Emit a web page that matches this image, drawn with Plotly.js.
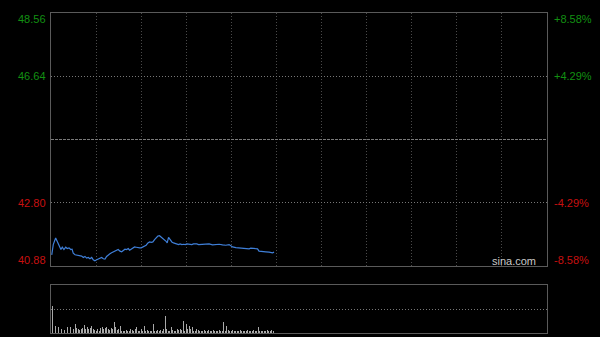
<!DOCTYPE html>
<html>
<head>
<meta charset="utf-8">
<script src="https://cdn.plot.ly/plotly-3.0.1.min.js"></script>
<style>
html,body{margin:0;padding:0;background:#000;}
#chart{width:600px;height:337px;}
</style>
</head>
<body>
<div id="chart"></div>
<script>
// Minutes since 09:30 (HK session, 330 minutes total), and prices
const priceMinutes = [0.5,1.5,3.1,4.2,5.5,6.6,7.5,8.6,9.8,10.8,12,13.1,14,14.8,16,17.1,18.1,19.3,20.4,21.5,22.6,23.7,24.8,25.9,27.1,28.1,29.2,30.4,31.4,32.6,33.7,34.8,35.9,37,38.1,39.2,40.3,41.4,42.5,43.7,44.7,45.9,47,48.1,49.2,50.3,51.4,52.3,53.4,54.5,55.6,56.7,57.8,59,60,61.1,62.3,63.3,64.5,65.6,66.7,67.8,68.9,70,71.1,72.2,73.3,74.4,75.6,76.6,77.3,78.2,79.3,80.4,81.5,82.6,83.7,84.9,85.9,87.1,88.2,89.3,90.4,91.5,92.6,93.7,94.8,95.9,97,98.2,99.2,100.4,101.5,102.6,103.7,105.2,107.5,109.7,111.9,114.1,116.3,118.5,119.6,120.8,123,125.2,127.4,129.6,131.8,132.9,135.1,137.4,138.4,140.7,142.9,145.1,147.4,148.4];
const prices = [41.22,41.53,41.73,41.63,41.48,41.38,41.45,41.38,41.45,41.41,41.43,41.38,41.39,41.27,41.22,41.21,41.21,41.18,41.18,41.14,41.17,41.12,41.14,41.10,41.14,41.07,41.04,41.07,41.09,41.12,41.14,41.10,41.09,41.17,41.22,41.25,41.28,41.31,41.33,41.35,41.38,41.33,41.31,41.35,41.39,41.38,41.41,41.36,41.40,41.43,41.46,41.45,41.43,41.43,41.43,41.45,41.48,41.51,41.58,41.61,41.60,41.61,41.68,41.75,41.79,41.80,41.76,41.73,41.68,41.63,41.58,41.75,41.68,41.61,41.58,41.56,41.55,41.53,41.55,41.53,41.54,41.53,41.55,41.54,41.53,41.53,41.55,41.56,41.55,41.53,41.53,41.54,41.55,41.54,41.55,41.55,41.52,41.54,41.54,41.52,41.51,41.53,41.50,41.46,41.44,41.43,41.40,41.41,41.40,41.42,41.41,41.40,41.33,41.31,41.31,41.30,41.28,41.30];

// Per-minute volume (relative units)
const volumes = [48,26.7,13.3,7.3,8,5.7,7.3,4,11.3,3,
  4,5.7,12.3,5.7,7.3,4,9,4.7,4,3,
  4,4.7,8,4,5.7,4,4.7,6.7,4,3,
  2.3,4,2.3,4.7,5.7,4,4.7,5.7,4,3,
  4.7,4,10.7,5.7,3.3,4,6.7,2.3,2.3,2,
  3.3,2,2.3,4,3,2.3,4,5.7,2.3,2,
  4,2.3,7.3,2.3,3.3,2,2.3,2.3,9,2,
  2.3,3,2,3,2.3,4,17.3,4,2.3,2,
  5.7,3,2.3,2.3,4,3,4,3.3,12.3,2,
  9,4,7.3,4,5.7,2.3,2.3,4,3,2,
  2,2.3,3,2.3,2,3,2.3,2,3,2,
  2.3,2,3,2,2.3,10.7,2.3,6.7,3,2,
  2.3,3,2,2.3,2,2.3,3,2,2.3,2,
  2,2.7,2,2.3,2,3,2,2.3,5.7,2,
  2.3,2,2.3,2,3,2.3,2,2.7,2.3];
const volumeMinutes = volumes.map((v,i)=>i);

const prevClose = 44.72;
const leftLabels = ["48.56","46.64","42.80","40.88"];
const rightLabels = ["+8.58%","+4.29%","-4.29%","-8.58%"];
const labelLevels = [48.56,46.64,42.80,40.88];
const labelColors = ["#129012","#129012","#c81010","#c81010"];
const labelShifts = [-6,0,0,6];

const traces = [
  {x: priceMinutes, y: prices, type:'scatter', mode:'lines',
   line:{color:'#3f7fd8', width:1.2}, xaxis:'x', yaxis:'y', hoverinfo:'skip'},
  {x: volumeMinutes, y: volumes, type:'bar', width:0.6,
   marker:{color:'#a8a8a8', line:{width:0}}, xaxis:'x2', yaxis:'y2', hoverinfo:'skip'}
];

const annotations = [];
labelLevels.forEach((lv,i)=>{
  annotations.push({xref:'paper', yref:'y', x:0, y:lv, xanchor:'right', yanchor:'middle',
    xshift:-3, yshift:labelShifts[i], text:leftLabels[i], showarrow:false,
    font:{family:'Liberation Sans, Arial, sans-serif', size:11, color:labelColors[i]}});
  annotations.push({xref:'paper', yref:'y', x:1, y:lv, xanchor:'left', yanchor:'middle',
    xshift:5, yshift:labelShifts[i], text:rightLabels[i], showarrow:false,
    font:{family:'Liberation Sans, Arial, sans-serif', size:11, color:labelColors[i]}});
});
annotations.push({xref:'paper', yref:'y', x:(538-51)/496, y:40.88, xanchor:'right', yanchor:'middle',
  yshift:5, text:'sina.com', showarrow:false,
  font:{family:'Liberation Sans, Arial, sans-serif', size:11, color:'#c8c8c8'}});

const layout = {
  width:600, height:337,
  margin:{l:51, r:53, t:13, b:4, pad:0},
  paper_bgcolor:'#000', plot_bgcolor:'#000',
  showlegend:false,
  bargap:0,
  xaxis:{domain:[0,1], range:[0,330], tick0:0, dtick:30, showgrid:true, gridcolor:'#4a4a4a',
    griddash:'1px,2px', gridwidth:1, showline:true, mirror:true, linecolor:'#5a5a5a', linewidth:1,
    showticklabels:false, ticks:'', zeroline:false, fixedrange:true},
  yaxis:{domain:[0.2094,1], range:[40.88,48.56], tickvals:[42.80,46.64], showgrid:true,
    gridcolor:'#777', griddash:'1px,2px', showline:true, mirror:true, linecolor:'#5a5a5a', linewidth:1,
    showticklabels:false, ticks:'', zeroline:false, fixedrange:true},
  xaxis2:{domain:[0,1], anchor:'y2', range:[0,330], showgrid:false, showline:true, mirror:true,
    linecolor:'#5a5a5a', linewidth:1,
    showticklabels:false, ticks:'', zeroline:false, fixedrange:true},
  yaxis2:{domain:[0,0.15], anchor:'x2', range:[0,48], tickvals:[24], showgrid:true,
    gridcolor:'#777', griddash:'1px,2px', showline:true, mirror:true, linecolor:'#5a5a5a', linewidth:1,
    showticklabels:false, ticks:'', zeroline:false, fixedrange:true},
  shapes:[
    {type:'line', xref:'paper', yref:'y', x0:0, x1:1, y0:prevClose, y1:prevClose,
     line:{color:'#7a7a7a', width:1, dash:'3px,1px'}}
  ],
  annotations: annotations
};

Plotly.newPlot('chart', traces, layout, {staticPlot:true, displayModeBar:false});
</script>
</body>
</html>
